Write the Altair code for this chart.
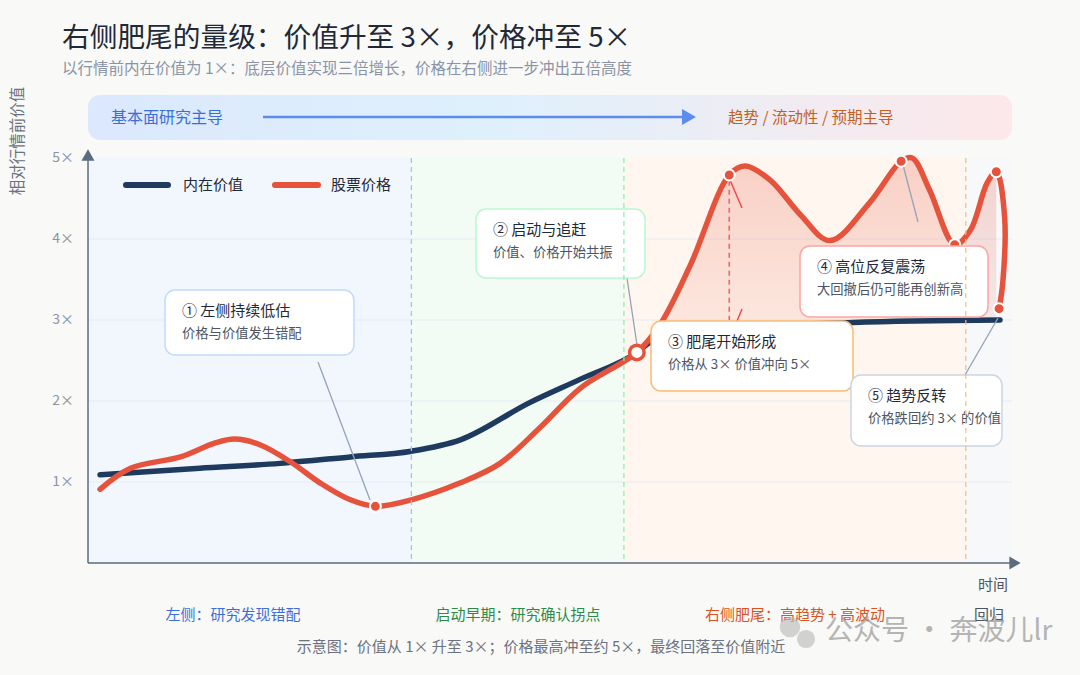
import altair as alt
import pandas as pd
import numpy as np

FONT = "Noto Sans CJK SC"

# ---------------- data ----------------
value_t = [1.3, 12.1, 20.8, 28.4, 35.0, 40.3, 47.8, 53.3, 59.4, 60.8, 66.2, 82.8, 98.7]
value_v = [1.09, 1.17, 1.23, 1.31, 1.38, 1.52, 1.98, 2.27, 2.60, 2.72, 2.88, 2.97, 3.00]

price_t = [1.3, 4.6, 10.0, 13.7, 15.9, 18.6, 21.9, 25.1, 28.4, 31.1, 35.0, 40.3, 44.6,
           48.9, 53.3, 59.4, 61.9, 65.2, 69.4, 71.1, 73.8, 77.1, 80.3, 84.6, 88.0, 89.2,
           91.1, 93.8, 95.5, 97.3, 98.3, 99.2, 99.0, 98.6]
price_v = [0.91, 1.17, 1.31, 1.48, 1.53, 1.46, 1.25, 0.99, 0.78, 0.70, 0.78, 0.99, 1.23,
           1.67, 2.16, 2.60, 2.94, 3.68, 4.79, 4.90, 4.73, 4.30, 3.98, 4.45, 4.96, 5.00,
           4.60, 3.93, 4.11, 4.69, 4.83, 4.27, 3.46, 3.14]

key_t = [31.1, 69.4, 88.0, 93.8, 98.3, 98.6]
key_v = [0.70, 4.79, 4.96, 3.93, 4.83, 3.14]
cross_t = [59.4]
cross_v = [2.60]

region_start = [0, 35, 58, 95]
region_end = [35, 58, 95, 100]
region_fill = ["#f2f7fe", "#f2fcf5", "#fff6ef", "#f6f8fa"]
divider_t = [35, 58, 95]
divider_color = ["#93c5fd", "#86efac", "#fdba74"]

y_ticks = [1, 2, 3, 4, 5]
y_tick_labels = ["1×", "2×", "3×", "4×", "5×"]

series_names = ["内在价值", "股票价格"]
series_colors = ["#1e3a5f", "#e5533d"]

box_titles = ["① 左侧持续低估", "② 启动与追赶", "③ 肥尾开始形成", "④ 高位反复震荡", "⑤ 趋势反转"]
box_subs = ["价格与价值发生错配", "价值、价格开始共振", "价格从 3× 价值冲向 5×",
            "大回撤后仍可能再创新高", "价格跌回约 3× 的价值"]

phase_labels = ["左侧：研究发现错配", "启动早期：研究确认拐点", "右侧肥尾：高趋势 + 高波动", "回归"]

# ---------------- layout helpers ----------------
PX0, PY0, W, H = 88, 158, 924, 405
AXIS_C = "#5b6b80"


def tx(px):
    return (px - PX0) / W * 100


def vy(py):
    return (PY0 + H - py) / H * 5


XS = alt.Scale(domain=[0, 100], nice=False, zero=False)
YS = alt.Scale(domain=[0, 5], nice=False, zero=False)


def X(f):
    return alt.X(f, type="quantitative", scale=XS, axis=None)


def Y(f):
    return alt.Y(f, type="quantitative", scale=YS, axis=None)


def ptext(text, px, py, size, color, align="left", weight="normal", angle=0, opacity=1):
    return alt.Chart(pd.DataFrame({"t": [text]})).mark_text(
        align=align, baseline="middle", fontSize=size, color=color, font=FONT,
        fontWeight=weight, angle=angle, opacity=opacity
    ).encode(x=alt.value(px - PX0), y=alt.value(py - PY0), text="t:N")


def prule(x1, y1, x2, y2, color, width, dash=None, cap="butt"):
    kw = dict(color=color, strokeWidth=width, strokeCap=cap)
    if dash:
        kw["strokeDash"] = dash
    return alt.Chart(pd.DataFrame({"a": [0]})).mark_rule(**kw).encode(
        x=alt.value(x1 - PX0), x2=alt.value(x2 - PX0),
        y=alt.value(y1 - PY0), y2=alt.value(y2 - PY0))


layers = []

# regions
reg = pd.DataFrame({"s": region_start, "e": region_end, "c": region_fill})
layers.append(alt.Chart(reg).mark_rect().encode(
    x=X("s:Q"), x2="e:Q", y=alt.value(0), y2=alt.value(H),
    color=alt.Color("c:N", scale=None)))

# grid
layers.append(alt.Chart(pd.DataFrame({"v": y_ticks[:-1]})).mark_rule(
    color="#e6ebf2", strokeWidth=1).encode(y=Y("v:Q")))

# fill between price and value on the right side
idx = [i for i, t in enumerate(price_t) if 59.4 <= t <= 98.3]
idx = idx[: idx.index(price_t.index(98.3)) + 1]
fill_t = [price_t[i] for i in idx]
fill_df = pd.DataFrame({"t": fill_t, "p": [price_v[i] for i in idx],
                        "v": np.interp(fill_t, value_t, value_v)})
layers.append(alt.Chart(fill_df).mark_area(
    interpolate="catmull-rom",
    fill=alt.Gradient(gradient="linear", x1=0, y1=0, x2=0, y2=1,
                      stops=[alt.GradientStop(color="rgba(229,83,61,0.24)", offset=0),
                             alt.GradientStop(color="rgba(229,83,61,0.07)", offset=1)])
).encode(x=X("t:Q"), y=Y("p:Q"), y2="v:Q"))

# red dashed magnitude line
layers.append(alt.Chart(pd.DataFrame({"t": [69.4], "a": [4.72], "b": [3.0]})).mark_rule(
    color="#f0656a", strokeWidth=1.6, strokeDash=[5, 4]).encode(x=X("t:Q"), y=Y("a:Q"), y2="b:Q"))
layers.append(prule(730, 180, 742, 208, "#ef4444", 1.4))
layers.append(prule(742, 309, 737, 321, "#ef4444", 1.4))

# value line
vdf = pd.DataFrame({"t": value_t, "v": value_v})
layers.append(alt.Chart(vdf).mark_line(
    color=series_colors[0], strokeWidth=5.5, interpolate="monotone", strokeCap="round"
).encode(x=X("t:Q"), y=Y("v:Q")))

# price line
pdf = pd.DataFrame({"t": price_t, "v": price_v, "i": list(range(len(price_t)))})
layers.append(alt.Chart(pdf).mark_line(
    color=series_colors[1], strokeWidth=5.5, interpolate="catmull-rom", strokeCap="round"
).encode(x=X("t:Q"), y=Y("v:Q"), order="i:Q"))

# connectors
for (a, b, c, d) in [(318, 362, 370, 500), (627, 278, 637, 345),
                     (903, 165, 918, 222), (965, 375, 998, 318)]:
    layers.append(prule(a, b, c, d, "#94a3b8", 1.3))

# key points
layers.append(alt.Chart(pd.DataFrame({"t": key_t, "v": key_v})).mark_point(
    filled=True, shape="circle", size=120, fill=series_colors[1], stroke="white",
    strokeWidth=2, opacity=1).encode(x=X("t:Q"), y=Y("v:Q")))
layers.append(alt.Chart(pd.DataFrame({"t": cross_t, "v": cross_v})).mark_point(
    filled=True, shape="circle", size=210, fill="white", stroke=series_colors[1],
    strokeWidth=3.5, opacity=1).encode(x=X("t:Q"), y=Y("v:Q")))

# annotation boxes
box_px = [(165, 354, 290, 355, "#bfdbfe"), (476, 645, 209, 278, "#bbf7d0"),
          (651, 853, 321, 391, "#fdba74"), (800, 988, 246, 317, "#fca5a5"),
          (851, 1002, 375, 446, "#cbd5e1")]
bdf = pd.DataFrame({"x1": [tx(b[0]) for b in box_px], "x2": [tx(b[1]) for b in box_px],
                    "y1": [vy(b[2]) for b in box_px], "y2": [vy(b[3]) for b in box_px],
                    "c": [b[4] for b in box_px]})
layers.append(alt.Chart(bdf).mark_rect(cornerRadius=10, fill="white", strokeWidth=1.5).encode(
    x=X("x1:Q"), x2="x2:Q", y=Y("y1:Q"), y2="y2:Q", stroke=alt.Stroke("c:N", scale=None)))
tdf = pd.DataFrame({"x": [tx(b[0] + 17) for b in box_px],
                    "ya": [vy(b[2] + 21) for b in box_px],
                    "yb": [vy(b[2] + 44) for b in box_px],
                    "title": box_titles, "sub": box_subs})
layers.append(alt.Chart(tdf).mark_text(align="left", baseline="middle", fontSize=15,
                                       font=FONT, color="#1f2937").encode(
    x=X("x:Q"), y=Y("ya:Q"), text="title:N"))
layers.append(alt.Chart(tdf).mark_text(align="left", baseline="middle", fontSize=13.3,
                                       font=FONT, color="#4b5563").encode(
    x=X("x:Q"), y=Y("yb:Q"), text="sub:N"))

# phase dividers (drawn above boxes, as in the reference)
ddf = pd.DataFrame({"t": divider_t, "c": divider_color})
layers.append(alt.Chart(ddf).mark_rule(strokeWidth=1.2, strokeDash=[5, 4]).encode(
    x=X("t:Q"), y=alt.value(0), y2=alt.value(H), color=alt.Color("c:N", scale=None)))

# legend
layers.append(prule(126, 185, 168, 185, series_colors[0], 6, cap="round"))
layers.append(ptext(series_names[0], 183, 185, 15, "#1f2937"))
layers.append(prule(275, 185, 318, 185, series_colors[1], 6, cap="round"))
layers.append(ptext(series_names[1], 331, 185, 15, "#1f2937"))

# axes (lines, arrows, tick labels)
layers.append(prule(88, 160, 88, 563, AXIS_C, 1.5))
layers.append(prule(88, 563, 1010, 563, AXIS_C, 1.5))
layers.append(alt.Chart(pd.DataFrame({"a": [0]})).mark_point(
    shape="triangle-up", filled=True, size=170, color=AXIS_C, opacity=1).encode(
    x=alt.value(0), y=alt.value(-3)))
layers.append(alt.Chart(pd.DataFrame({"a": [0]})).mark_point(
    shape="triangle-right", filled=True, size=170, color=AXIS_C, opacity=1).encode(
    x=alt.value(W + 3), y=alt.value(H)))
layers.append(alt.Chart(pd.DataFrame({"v": y_ticks, "lab": y_tick_labels})).mark_text(
    align="right", baseline="middle", fontSize=14, font=FONT, color="#8a94a6").encode(
    x=alt.value(-14), y=Y("v:Q"), text="lab:N"))

# titles / texts outside the plot
layers.append(ptext("右侧肥尾的量级：价值升至 3×，价格冲至 5×", 62, 39, 27.7, "#1f2937"))
layers.append(ptext("以行情前内在价值为 1×：底层价值实现三倍增长，价格在右侧进一步冲出五倍高度",
                    62, 69, 15.5, "#8a94a6"))

# top band
layers.append(alt.Chart(pd.DataFrame({"a": [0]})).mark_rect(
    cornerRadius=12,
    fill=alt.Gradient(gradient="linear", x1=0, y1=0, x2=1, y2=0,
                      stops=[alt.GradientStop(color="#dbe8fd", offset=0),
                             alt.GradientStop(color="#dff0fc", offset=0.45),
                             alt.GradientStop(color="#fde8ea", offset=1)])
).encode(x=alt.value(0), x2=alt.value(W), y=alt.value(95 - PY0), y2=alt.value(140 - PY0)))
layers.append(ptext("基本面研究主导", 111, 118, 16, "#3b6fd8"))
layers.append(prule(263, 117, 684, 117, "#5b8def", 2.5))
layers.append(alt.Chart(pd.DataFrame({"a": [0]})).mark_point(
    shape="triangle-right", filled=True, size=260, color="#5b8def", opacity=1).encode(
    x=alt.value(689 - PX0), y=alt.value(117 - PY0)))
layers.append(ptext("趋势 / 流动性 / 预期主导", 728, 118, 15.5, "#c2611f"))

# axis titles
layers.append(ptext("相对行情前价值", 18, 141, 15.5, "#6b7280", align="center", angle=270))
layers.append(ptext("时间", 993, 585, 15, "#4b5563", align="center"))

# phase labels
for lab, cx, col in zip(phase_labels, [233, 518, 795, 989],
                        ["#3b6fd8", "#2e8b47", "#d9541e", "#4b5563"]):
    layers.append(ptext(lab, cx, 615, 15, col, align="center"))

layers.append(ptext("示意图：价值从 1× 升至 3×；价格最高冲至约 5×，最终回落至价值附近",
                    541, 647, 15, "#6b7280", align="center"))

# watermark
layers.append(alt.Chart(pd.DataFrame({"x": [790 - PX0, 806 - PX0], "y": [627 - PY0, 639 - PY0],
                                      "s": [420, 330]})).mark_point(
    shape="circle", filled=True, color="#b5b5b5", opacity=0.6).encode(
    x=alt.X("x:Q", scale=None, axis=None), y=alt.Y("y:Q", scale=None, axis=None),
    size=alt.Size("s:Q", scale=None, legend=None)))
layers.append(ptext("公众号 · 奔波儿lr", 825, 632, 28, "#a3a3a3", opacity=0.8))

chart = alt.layer(*layers).properties(
    width=W, height=H,
    padding={"left": PX0, "top": PY0, "right": 1080 - PX0 - W, "bottom": 675 - PY0 - H},
    autosize=alt.AutoSizeParams(type="none"),
).configure(background="#f9f9f8").configure_view(stroke=None).resolve_scale(
    x="independent", y="independent", size="independent")

chart.save("out.html", embed_options={"renderer": "svg", "actions": False})
